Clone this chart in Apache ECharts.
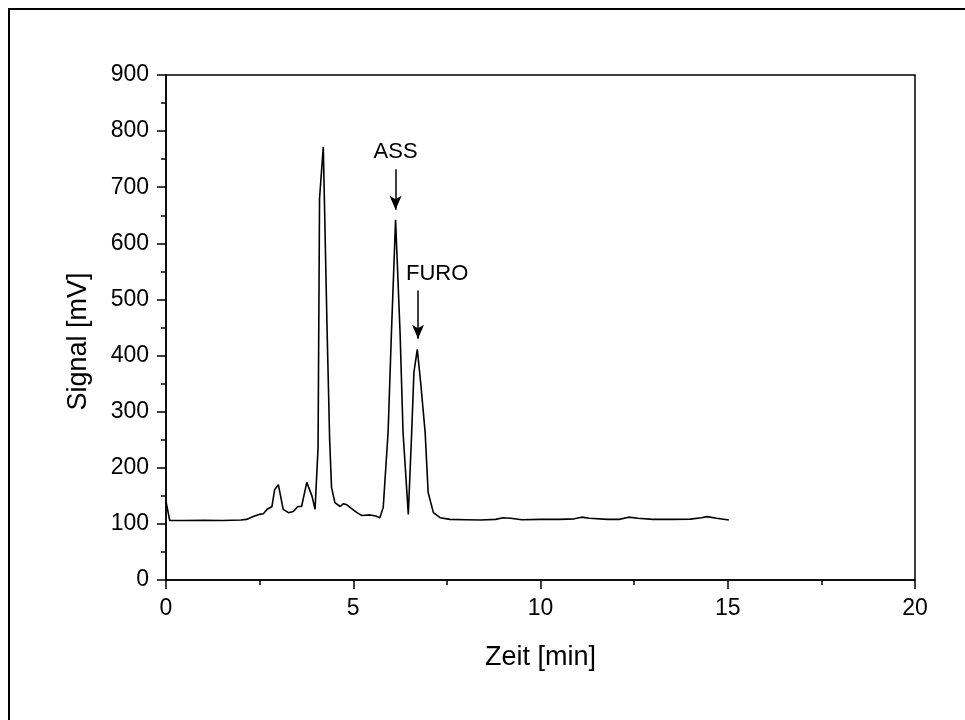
<!DOCTYPE html>
<html>
<head>
    <meta charset="utf-8">
    <title>Chromatogramm</title>
    <script src="https://cdn.jsdelivr.net/npm/echarts@6/dist/echarts.min.js"></script>
    <style>
      body { padding: 0; margin: 0; background: #fff; }
      #main { width: 965px; height: 720px; }
    </style>
</head>
<body>
  <div id="main"></div>
  <script type="text/javascript">
    // Zeit [min] und Signal [mV]
    var zeit = [0, 0.1, 0.5, 1, 1.5, 2.0, 2.15, 2.33, 2.5, 2.6, 2.7, 2.83, 2.9, 3.0, 3.13, 3.27, 3.4, 3.52, 3.62, 3.76,
      3.9, 3.98, 4.06, 4.1, 4.2, 4.3, 4.37, 4.42, 4.51, 4.65, 4.74, 4.83, 5.0, 5.1, 5.23, 5.45, 5.6, 5.71, 5.8, 5.93,
      6.02, 6.13, 6.25, 6.33, 6.47, 6.56, 6.62, 6.71, 6.8, 6.92, 7.0, 7.14, 7.32, 7.58, 8.0, 8.4, 8.8, 9.0, 9.2, 9.5,
      10, 10.5, 10.9, 11.1, 11.3, 11.8, 12.1, 12.35, 12.6, 13, 13.5, 14, 14.3, 14.45, 14.7, 15.03]
    var signal = [140, 106, 106, 106.5, 106, 107, 108, 113, 117, 118, 126, 131, 161, 170, 126, 120, 122, 131, 131, 174,
      149, 126, 235, 680, 772, 450, 250, 165, 138, 131, 136, 134, 125, 120, 115, 116, 114, 111, 129, 263,
      441, 642, 441, 263, 117, 263, 370, 411, 352, 263, 156, 120, 111, 108, 107.5, 107, 108, 111, 110, 107.5,
      108, 108, 109, 112, 110, 108, 108, 112, 110, 108, 108, 108.5, 111, 113, 110, 107]

    // Peak-Beschriftungen
    var peakNamen = ['ASS', 'FURO']
    var pfeilX = [6.13, 6.73]
    var pfeilVon = [732, 516]
    var pfeilBis = [660, 430]
    var textPos = [[6.13, 762], [7.24, 546]]

    var font = 'Liberation Sans, Arial, sans-serif'
    var linie = zeit.map(function (t, i) { return [t, signal[i]] })

    var pfeile = peakNamen.map(function (n, i) {
      return [{ coord: [pfeilX[i], pfeilVon[i]] }, { coord: [pfeilX[i], pfeilBis[i]] }]
    })
    var texte = peakNamen.map(function (n, i) {
      return { name: n, coord: textPos[i] }
    })

    var myChart = echarts.init(document.getElementById('main'))
    var option = {
      animation: false,
      backgroundColor: '#fff',
      graphic: [{
        type: 'rect',
        shape: { x: 9, y: 9, width: 1100, height: 1100 },
        style: { fill: 'none', stroke: '#000', lineWidth: 2 },
        silent: true
      }],
      grid: {
        left: 166, right: 50, top: 75, bottom: 140,
        show: true, borderColor: '#000', borderWidth: 1.5
      },
      xAxis: {
        type: 'value', min: 0, max: 20, interval: 5,
        name: 'Zeit [min]', nameLocation: 'middle', nameGap: 64,
        nameTextStyle: { fontFamily: font, fontSize: 27, color: '#000' },
        axisLine: { onZero: false, lineStyle: { color: '#000', width: 1.5 } },
        axisTick: { inside: false, length: 9, lineStyle: { color: '#000', width: 1.5 } },
        minorTick: { show: true, splitNumber: 2, length: 5, lineStyle: { color: '#000', width: 1.5 } },
        axisLabel: { fontFamily: font, fontSize: 23, color: '#000', margin: 17 },
        splitLine: { show: false }
      },
      yAxis: {
        type: 'value', min: 0, max: 900, interval: 100,
        name: 'Signal [mV]', nameLocation: 'middle', nameGap: 74,
        nameTextStyle: { fontFamily: font, fontSize: 27, color: '#000', padding: [0, 28, 0, 0] },
        axisLine: { onZero: false, lineStyle: { color: '#000', width: 1.5 } },
        axisTick: { inside: false, length: 9, lineStyle: { color: '#000', width: 1.5 } },
        minorTick: { show: true, splitNumber: 2, length: 5, lineStyle: { color: '#000', width: 1.5 } },
        axisLabel: { fontFamily: font, fontSize: 23, color: '#000', margin: 17 },
        splitLine: { show: false }
      },
      series: [{
        type: 'line',
        data: linie,
        showSymbol: false,
        smooth: false,
        lineStyle: { color: '#000', width: 1.6 },
        itemStyle: { color: '#000' },
        markLine: {
          silent: true,
          symbol: ['none', 'arrow'],
          symbolSize: [9, 14],
          label: { show: false },
          lineStyle: { color: '#000', width: 1.5, type: 'solid' },
          data: pfeile
        },
        markPoint: {
          silent: true,
          symbol: 'rect',
          symbolSize: 0,
          label: {
            show: true, position: 'inside', formatter: '{b}',
            fontFamily: font, fontSize: 22, color: '#000'
          },
          data: texte
        }
      }]
    }
    myChart.setOption(option)
  </script>
</body>
</html>
